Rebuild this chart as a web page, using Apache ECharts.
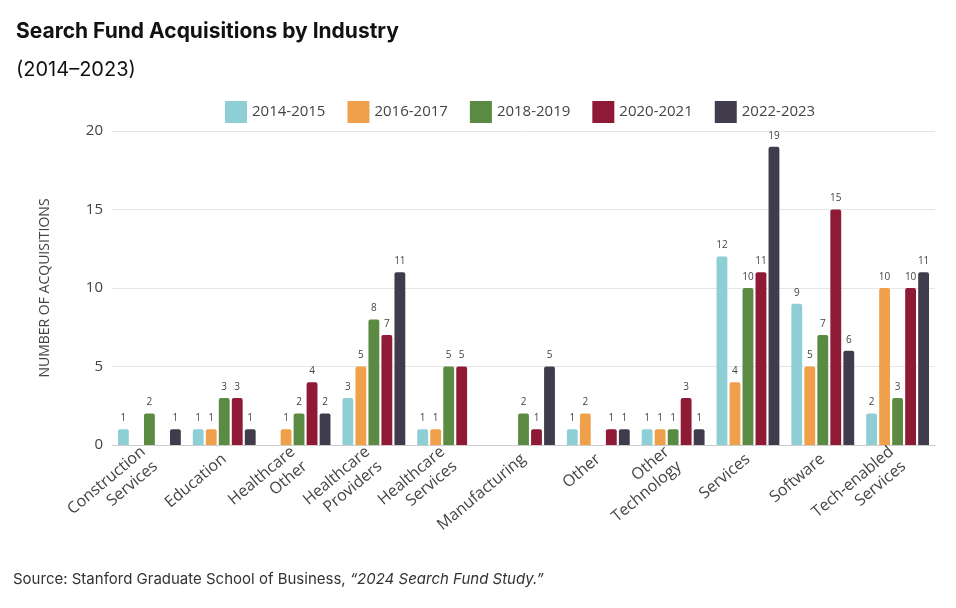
<!DOCTYPE html>
<html>
<head>
<meta charset="utf-8">
<script src="https://cdn.jsdelivr.net/npm/echarts@6/dist/echarts.min.js"></script>
<style>html,body{margin:0;padding:0;background:#fff}#echart{width:956px;height:608px}</style>
</head>
<body>
<div id="echart"></div>
<script>
var categories = ["Construction\nServices", "Education", "Healthcare\nOther", "Healthcare\nProviders", "Healthcare\nServices", "Manufacturing", "Other", "Other\nTechnology", "Services", "Software", "Tech-enabled\nServices"];
var periods = ["2014-2015", "2016-2017", "2018-2019", "2020-2021", "2022-2023"];
var colors = ["#8ecfd6", "#f0a04b", "#5b8a42", "#8e1a35", "#413c4c"];
var v2014 = [1, 1, 0, 3, 1, 0, 1, 1, 12, 9, 2];
var v2016 = [0, 1, 1, 5, 1, 0, 2, 1, 4, 5, 10];
var v2018 = [2, 3, 2, 8, 5, 2, 0, 1, 10, 7, 3];
var v2020 = [0, 3, 4, 7, 5, 1, 1, 3, 11, 15, 10];
var v2022 = [1, 1, 2, 11, 0, 5, 1, 1, 19, 6, 11];
var values = [v2014, v2016, v2018, v2020, v2022];

var chartDom = document.getElementById('echart');
var myChart = echarts.init(chartDom);

var series = periods.map(function (p, i) {
    return {
        name: p,
        type: "bar",
        barGap: "20%",
        barCategoryGap: "16%",
        data: values[i].map(function (v) { return v === 0 ? null : v; }),
        itemStyle: { color: colors[i], borderRadius: [2, 2, 0, 0] },
        label: { show: true, position: "top", fontSize: 10, color: "#444", distance: 6, fontFamily: "Open Sans" }
    };
});

var option = {
    textStyle: { fontFamily: "Open Sans" },
    title: [
        { text: "Search Fund Acquisitions by Industry", left: 11, top: 16, textStyle: { fontFamily: "Inter", fontSize: 21, fontWeight: "bold", color: "#111" } },
        { text: "(2014–2023)", left: 11, top: 55, textStyle: { fontFamily: "Inter", fontSize: 20, fontWeight: "normal", color: "#111" } }
    ],
    graphic: [{
        type: "text", left: 13, top: 572,
        style: { rich: { a: { fontFamily: "Inter", fontSize: 15, fill: "#333" }, b: { fontFamily: "Inter", fontSize: 15, fontStyle: "italic", fill: "#333" } },
                 text: "{a|Source: Stanford Graduate School of Business, }{b|“2024 Search Fund Study.”}" }
    }],
    legend: {
        top: 96, left: 220, itemWidth: 22, itemHeight: 22, itemGap: 22,
        textStyle: { fontSize: 15, color: "#444" },
        icon: "rect"
    },
    grid: { left: 112, right: 21, top: 131, bottom: 163 },
    xAxis: {
        type: "category", data: categories,
        axisTick: { show: false },
        axisLine: { lineStyle: { color: "#ccc" } },
        axisLabel: { rotate: 40, interval: 0, fontSize: 16, color: "#444", align: "right", lineHeight: 19, margin: 12 }
    },
    yAxis: {
        type: "value", min: 0, max: 20, interval: 5,
        name: "NUMBER OF ACQUISITIONS", nameLocation: "middle", nameGap: 60,
        nameTextStyle: { fontSize: 14, color: "#444", letterSpacing: 1 },
        axisLabel: { fontSize: 15, color: "#444", margin: 9 },
        splitLine: { lineStyle: { color: "#e6e6e6" } }
    },
    series: series
};

myChart.setOption(option);
</script>
</body>
</html>
